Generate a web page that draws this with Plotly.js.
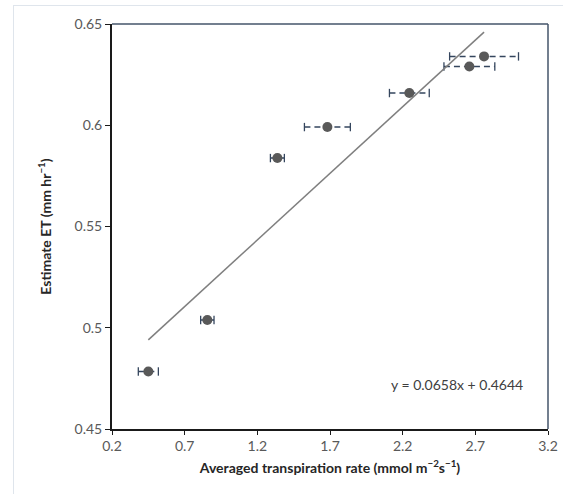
<!DOCTYPE html>
<html>
<head>
<meta charset="utf-8">
<script src="https://cdn.plot.ly/plotly-3.0.1.min.js"></script>
<style>
  html, body { margin: 0; padding: 0; background: #ffffff; }
  #frame { position: absolute; left: 13px; top: 5px; width: 600px; height: 600px;
           border-left: 1px solid #dfe5ec; border-top: 1px solid #dfe5ec; }
  #chart { position: absolute; left: 0; top: 0; width: 563px; height: 494px; }
</style>
</head>
<body>
<div id="frame"></div>
<div id="chart"></div>
<script>
// Data
const transpiration = [0.45, 0.856, 1.338, 1.682, 2.246, 2.659, 2.760];
const estimateET    = [0.4784, 0.5038, 0.5838, 0.5991, 0.6159, 0.6290, 0.6340];
const xError        = [0.069, 0.046, 0.048, 0.158, 0.137, 0.175, 0.237];
const slope = 0.0658;
const intercept = 0.4644;
const equationText = 'y = 0.0658x + 0.4644';
const xTickVals = [0.2, 0.7, 1.2, 1.7, 2.2, 2.7, 3.2];
const yTickVals = [0.45, 0.5, 0.55, 0.6, 0.65];

const FONT = 'Lato, "Liberation Sans", sans-serif';
const errColor = '#35465e';

const traces = [];

// Dashed horizontal error bars with caps
transpiration.forEach((x, i) => {
  const y = estimateET[i];
  traces.push({
    x: [x - xError[i], x + xError[i]], y: [y, y],
    mode: 'lines', type: 'scatter', hoverinfo: 'skip', showlegend: false,
    line: { color: errColor, width: 1.5, dash: '6px,4px' }
  });
  traces.push({
    x: [x - xError[i], x + xError[i]], y: [y, y],
    mode: 'markers', type: 'scatter', hoverinfo: 'skip', showlegend: false,
    marker: { symbol: 'line-ns', size: 6, line: { color: errColor, width: 1.3 } }
  });
});

// Linear trendline from the fitted equation over the data range
const xMin = Math.min(...transpiration), xMax = Math.max(...transpiration);
traces.push({
  x: [xMin, xMax], y: [slope * xMin + intercept, slope * xMax + intercept],
  mode: 'lines', type: 'scatter', showlegend: false,
  line: { color: '#7f7f7f', width: 1.5 }
});

// Data points
traces.push({
  x: transpiration, y: estimateET,
  mode: 'markers', type: 'scatter', showlegend: false,
  marker: { color: '#595959', size: 10, symbol: 'circle' }
});

const layout = {
  width: 563, height: 494,
  margin: { l: 112, r: 15, t: 24, b: 65 },
  paper_bgcolor: 'rgba(0,0,0,0)',
  plot_bgcolor: '#ffffff',
  font: { family: FONT, color: '#595959', size: 14 },
  xaxis: {
    range: [0.2, 3.2], tickvals: xTickVals, ticktext: xTickVals.map(v => v.toFixed(1)),
    showgrid: false, zeroline: false,
    showline: true, linecolor: '#1a1a1a', linewidth: 1.5,
    ticks: 'outside', ticklen: 4, tickcolor: '#1a1a1a', tickwidth: 1,
    tickfont: { family: FONT, size: 14, color: '#595959' },
    title: { text: 'Averaged transpiration rate (mmol m<sup>−2</sup>s<sup>−1</sup>)',
             font: { family: FONT, size: 14, color: '#262626', weight: 'bold' }, standoff: 10 }
  },
  yaxis: {
    range: [0.45, 0.65], tickvals: yTickVals,
    showgrid: false, zeroline: false,
    showline: true, linecolor: '#1a1a1a', linewidth: 2,
    ticks: 'outside', ticklen: 5, tickcolor: '#1a1a1a', tickwidth: 1,
    tickfont: { family: FONT, size: 14, color: '#595959' },
    title: { text: 'Estimate ET (mm hr<sup>−1</sup>)',
             font: { family: FONT, size: 14, color: '#262626', weight: 'bold' }, standoff: 20 }
  },
  shapes: [
    { type: 'line', xref: 'paper', yref: 'paper', x0: 0, x1: 1, y0: 1, y1: 1,
      line: { color: '#44546a', width: 1.5 } },
    { type: 'line', xref: 'paper', yref: 'paper', x0: 1, x1: 1, y0: 0, y1: 1,
      line: { color: '#44546a', width: 1.5 } }
  ],
  annotations: [
    { text: equationText, xref: 'paper', yref: 'paper', x: 0.791, y: 0.109,
      xanchor: 'center', yanchor: 'middle', showarrow: false,
      font: { family: FONT, size: 14, color: '#404040' } }
  ]
};

Plotly.newPlot('chart', traces, layout, { displayModeBar: false, staticPlot: true });
</script>
</body>
</html>
